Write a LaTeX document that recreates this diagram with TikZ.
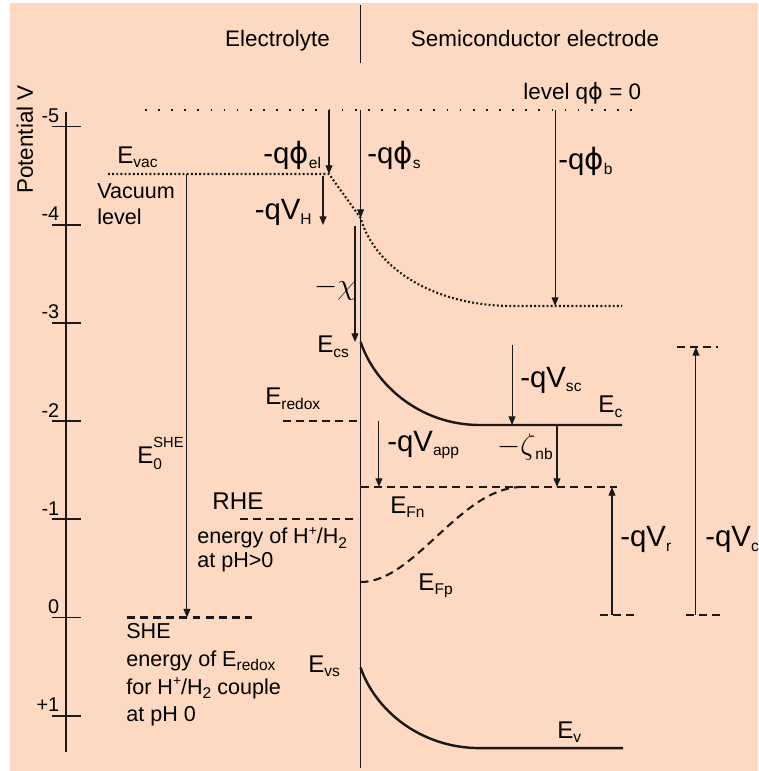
\documentclass[tikz,border=0pt]{standalone}
\usepackage{fontspec}
\setmainfont{Liberation Sans}
\newfontfamily\greekfont{DejaVu Sans}
\usepackage{amsmath}
\usetikzlibrary{arrows.meta,positioning}
\definecolor{peach}{RGB}{252,217,192}
\definecolor{ink}{RGB}{25,25,25}
\newcommand{\lsub}[1]{\raisebox{-2.5pt}{\fontsize{9}{9}\selectfont #1}}
\newcommand{\lsup}[1]{\raisebox{5pt}{\fontsize{8}{8}\selectfont #1}}
\newcommand{\qphi}{{\greekfont ϕ}}
\tikzset{
  axisline/.style={ink, line width=1pt},
  bandline/.style={ink, line width=1.4pt},
  fermiline/.style={ink, line width=1.2pt, dash pattern=on 4.6pt off 3pt},
  vacdots/.style={ink, line width=1.2pt, dash pattern=on 1.1pt off 1.3pt},
  zerodots/.style={ink, line width=1pt, dash pattern=on 1pt off 6.6pt},
  potarrow/.style={ink, line width=0.6pt, -{Triangle[length=5pt,width=4pt]}},
  qlabel/.style={font=\fontsize{17}{20}\selectfont, inner sep=0pt},
  elabel/.style={font=\fontsize{14}{16}\selectfont, inner sep=0pt, anchor=base west},
  note/.style={font=\fontsize{12.5}{16.2}\selectfont, inner sep=0pt, align=left},
  head/.style={font=\fontsize{13}{15}\selectfont, inner sep=0pt, anchor=base}
}

\begin{document}
\begin{tikzpicture}[x=2cm,y=2cm]
  \useasboundingbox (-0.672,-1.563) rectangle (7.047,6.288);
  \fill[peach] (-0.570,-1.563) rectangle (7.047,6.257);

  % potential scale
  \draw[axisline] (0,5.15) -- (0,-1.37);
  \foreach \v/\t [count=\k] in {5/-5,4/-4,3/-3,2/-2,1/-1,0/0,-1/+1}{
    \draw[axisline] (-0.143,\v) -- (0.153,\v);
    \node[font=\fontsize{11.5}{13}\selectfont, inner sep=0pt, anchor=base east] (tick\k) at (-0.065,\v+0.04) {\t};
  }
  \node[rotate=90, font=\fontsize{13}{15}\selectfont] (potlabel) at (-0.418,4.868) {Potential V};

  \node[head] (electrolyte) at (2.154,5.81) {Electrolyte};
  \node[head] (semicond) at (4.776,5.81) {Semiconductor electrode};
  \draw[axisline] (3,6.237) -- (3,5.647);

  % levels
  \coordinate (zeroL) at (0.804,5.168);
  \coordinate (zeroR) at (5.815,5.168);
  \coordinate (vacL) at (0.428,4.516);
  \coordinate (vacR) at (2.678,4.516);
  \coordinate (surf) at (3,4.068);
  \coordinate (vacB) at (4.55,3.172);
  \draw[zerodots] (zeroL) -- (zeroR);
  \node[head, anchor=base west] (zerolevel) at (4.654,5.27) {level q\qphi{} = 0};
  \draw[vacdots] (vacL) -- (vacR) -- (surf) .. controls (3.15,3.55) and (3.75,3.172) .. (vacB) -- (5.662,3.172);
  \draw[axisline] (3,5.168) -- (3,-1.533);

  \draw[potarrow] (2.678,5.168) -- (vacR);
  \node[qlabel, anchor=base east] (phiel) at (2.60,4.62) {-q\qphi\lsub{el}};
  \draw[potarrow] (2.617,4.496) -- (2.617,3.997);
  \node[qlabel, anchor=base east] (vh) at (2.505,4.05) {-qV\lsub{H}};
  \draw[potarrow] (3,5.168) -- (surf);
  \node[qlabel, anchor=base west] (phis) at (3.065,4.62) {-q\qphi\lsub{s}};
  \draw[potarrow] (4.98,5.168) -- (4.98,3.172);
  \node[qlabel, anchor=base west] (phib) at (5.01,4.56) {-q\qphi\lsub{b}};
  \draw[potarrow] (2.943,3.982) -- (2.943,2.806);
  \node[qlabel] (chi) at (2.739,3.345) {$-\chi$};

  \node[elabel] (evac) at (0.519,4.628) {E\lsub{vac}};
  \node[note, anchor=base west, font=\fontsize{12.5}{15.6}\selectfont] (vaclevel) at (0.316,3.997) {Vacuum\\level};

  % reference electrodes
  \draw[potarrow] (1.232,4.516) -- (1.232,0);
  \node[elabel] (eshe) at (0.723,1.573) {E\rlap{\raisebox{9pt}{\fontsize{8.5}{9}\selectfont SHE}}\raisebox{-4pt}{\fontsize{9}{9}\selectfont 0}};
  \draw[fermiline] (0.621,0) -- (1.894,0);
  \node[note, anchor=base west] (shenote) at (0.611,-1.064) {SHE\\energy of E\lsub{redox}\\for H\lsup{+}/H\lsub{2} couple\\at pH 0};
  \node[elabel] (rhe) at (1.487,1.095) {RHE};
  \draw[fermiline] (1.772,1) -- (2.974,1);
  \node[note, anchor=base west, font=\fontsize{12.5}{13.4}\selectfont] (rhenote) at (1.334,0.514) {energy of H\lsup{+}/H\lsub{2}\\at pH>0};

  % bands in the electrode
  \draw[bandline] (3,2.806) .. controls (3.147,2.368) and (3.605,1.96) .. (4.216,1.96) -- (5.662,1.96);
  \node[elabel] (ecs) at (2.556,2.694) {E\lsub{cs}};
  \node[elabel] (ec) at (5.418,2.083) {E\lsub{c}};
  \draw[potarrow] (4.542,2.775) -- (4.542,1.96);
  \node[qlabel, anchor=base west] (vsc) at (4.623,2.347) {-qV\lsub{sc}};
  \draw[fermiline] (2.21,2) -- (2.974,2);
  \node[elabel] (eredox) at (2.026,2.164) {E\lsub{redox}};
  \draw[potarrow] (3.187,2.0) -- (3.187,1.33);
  \node[qlabel, anchor=base west] (vapp) at (3.269,1.69) {-qV\lsub{app}};
  \draw[fermiline] (3,1.329) -- (5.611,1.329);
  \node[elabel] (efn) at (3.299,1.064) {E\lsub{Fn}};
  \draw[fermiline] (3,0.361) .. controls (3.55,0.361) and (4.0,1.30) .. (4.62,1.329);
  \node[elabel] (efp) at (3.585,0.28) {E\lsub{Fp}};
  \draw[potarrow] (5,1.96) -- (5,1.329);
  \node[qlabel, anchor=base east] (zeta) at (4.959,1.655) {$-\zeta$\lsub{nb}};

  \draw[fermiline] (5.438,0.025) -- (5.815,0.025);
  \draw[potarrow] (5.56,0.025) -- (5.56,1.329);
  \node[qlabel, anchor=base west] (vr) at (5.642,0.72) {-qV\lsub{r}};
  \draw[fermiline] (6.222,2.754) -- (6.64,2.754);
  \draw[fermiline] (6.314,0.025) -- (6.68,0.025);
  \draw[potarrow] (6.415,0.025) -- (6.415,2.754);
  \node[qlabel, anchor=base west] (vc) at (6.507,0.72) {-qV\lsub{c}};

  \draw[bandline] (3,-0.51) .. controls (3.147,-0.94) and (3.605,-1.33) .. (4.216,-1.33) -- (5.672,-1.33);
  \node[elabel] (evs) at (2.464,-0.555) {E\lsub{vs}};
  \node[elabel] (ev) at (5.0,-1.227) {E\lsub{v}};
\end{tikzpicture}
\end{document}
